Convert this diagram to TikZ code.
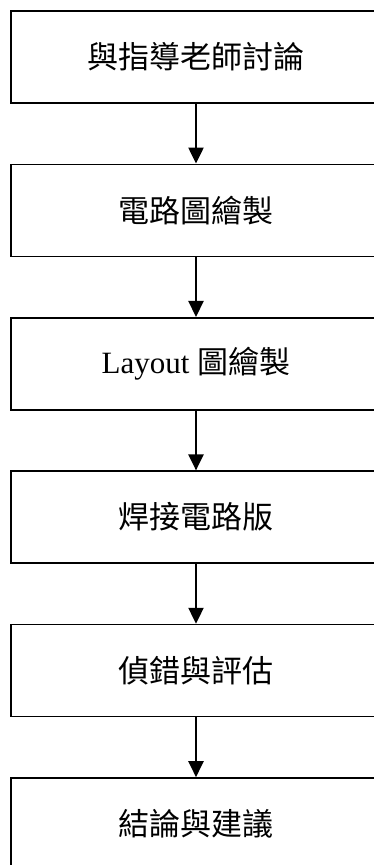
\documentclass[tikz,border=0pt]{standalone}
\usepackage{fontspec}
\setmainfont{Liberation Serif}
\newfontfamily\cjk{Noto Sans CJK TC}
\usetikzlibrary{arrows.meta}
\begin{document}
\begin{tikzpicture}[x=1pt,y=1pt,
  stepbox/.style={draw=black,line width=1.6pt,minimum width=370pt,minimum height=92pt,inner sep=0pt,font=\fontsize{31}{34}\selectfont,fill=white},
  flowarrow/.style={line width=2.2pt,-{Triangle[length=16pt,width=15pt]}}]
\useasboundingbox (0,0) rectangle (373,865);
\fill[white] (0,0) rectangle (373,865);
\node[stepbox] (b1) at (196,808) {\cjk 與指導老師討論};
\node[stepbox] (b2) at (196,654.6) {\cjk 電路圖繪製};
\node[stepbox] (b3) at (196,501.2) {Layout {\cjk 圖繪製}};
\node[stepbox] (b4) at (196,347.8) {\cjk 焊接電路版};
\node[stepbox] (b5) at (196,194.4) {\cjk 偵錯與評估};
\node[stepbox] (b6) at (196,41) {\cjk 結論與建議};
\draw[flowarrow] (b1.south) -- (b2.north);
\draw[flowarrow] (b2.south) -- (b3.north);
\draw[flowarrow] (b3.south) -- (b4.north);
\draw[flowarrow] (b4.south) -- (b5.north);
\draw[flowarrow] (b5.south) -- (b6.north);
\end{tikzpicture}
\end{document}
